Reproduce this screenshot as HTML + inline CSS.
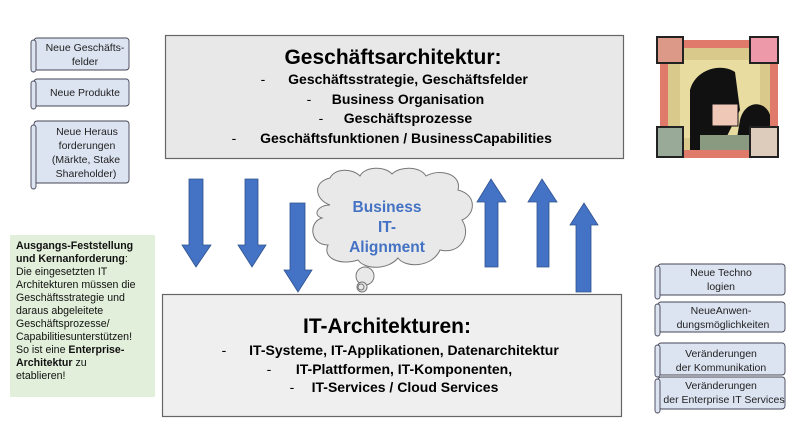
<!DOCTYPE html>
<html><head><meta charset="utf-8"><style>
html,body{margin:0;padding:0;background:#fff;width:796px;height:447px;overflow:hidden}
svg{display:block}
.b{font-family:"Liberation Sans",sans-serif;font-weight:bold}
.s{font-family:"Liberation Sans",sans-serif;font-size:10.5px;fill:#222}
</style></head><body>
<svg width="796" height="447" viewBox="0 0 796 447" xmlns="http://www.w3.org/2000/svg">
<!-- main boxes -->
<rect x="165.5" y="35.5" width="458" height="123" fill="#e9e8e8" stroke="#666" stroke-width="1.2"/>
<text x="393" y="64" text-anchor="middle" class="b" font-size="21">Geschäftsarchitektur:</text>
<g class="b" font-size="14" text-anchor="middle">
<text x="263" y="84" font-weight="normal">-</text><text x="408" y="84">Geschäftsstrategie, Geschäftsfelder</text>
<text x="309" y="104" font-weight="normal">-</text><text x="408" y="104">Business Organisation</text>
<text x="321" y="123" font-weight="normal">-</text><text x="408" y="123">Geschäftsprozesse</text>
<text x="234" y="143" font-weight="normal">-</text><text x="406" y="143">Geschäftsfunktionen / BusinessCapabilities</text>
</g>
<rect x="162.5" y="294.5" width="459" height="122" fill="#efefef" stroke="#666" stroke-width="1.2"/>
<text x="387" y="333" text-anchor="middle" class="b" font-size="21">IT-Architekturen:</text>
<g class="b" font-size="14" text-anchor="middle">
<text x="224" y="355" font-weight="normal">-</text><text x="404" y="355">IT-Systeme, IT-Applikationen, Datenarchitektur</text>
<text x="269" y="374" font-weight="normal">-</text><text x="404" y="374">IT-Plattformen, IT-Komponenten,</text>
<text x="292" y="392" font-weight="normal">-</text><text x="405" y="392">IT-Services / Cloud Services</text>
</g>
<!-- arrows -->
<g fill="#4472c4" stroke="#2f528f" stroke-width="0.8">
<polygon points="189,179 203,179 203,245 211,245 196,267 182,245 189,245"/>
<polygon points="245,179 258,179 258,245 266,245 252,267 238,245 245,245"/>
<polygon points="290,203 305,203 305,270 312,270 298,292 284,270 290,270"/>
<polygon points="485,267 498,267 498,202 506,202 491,179 477,202 485,202"/>
<polygon points="537,267 549,267 549,202 557,202 542,179 528,202 537,202"/>
<polygon points="576,292 591,292 591,225 598,225 584,203 570,225 576,225"/>
</g>
<!-- cloud -->
<g fill="#e9e9e9" stroke="#777" stroke-width="1">
<path d="M330,205 C315,200 312,182 330,178 C335,168 352,168 360,176 C365,166 385,166 392,174 C400,166 420,166 426,176 C440,168 462,174 458,190 C478,195 475,215 462,220 C472,235 460,255 440,250 C432,268 405,268 398,258 C388,270 365,270 358,260 C340,266 322,258 328,245 C310,245 308,222 322,218 C312,215 318,205 330,205 Z"/>
<circle cx="365" cy="276" r="9"/>
<circle cx="362" cy="287" r="5"/>
<circle cx="361" cy="287" r="3"/>
</g>
<g class="b" font-size="15.5" fill="#4472c4" text-anchor="middle">
<text x="387" y="212">Business</text><text x="387" y="232">IT-</text><text x="387" y="252">Alignment</text>
</g>
<!-- left scrolls -->
<g fill="#dce3f1" stroke="#445" stroke-width="0.9">
<rect x="34" y="38" width="95" height="32" rx="3"/><rect x="31" y="40" width="5" height="32" rx="2.5"/>
<rect x="34" y="79" width="95" height="27" rx="3"/><rect x="31" y="81" width="5" height="28" rx="2.5"/>
<rect x="34" y="121" width="95" height="62" rx="3"/><rect x="31" y="125" width="5" height="64" rx="2.5"/>
</g>
<g class="s" text-anchor="middle">
<text x="85" y="51">Neue Geschäfts-</text><text x="85" y="65">felder</text>
<text x="85" y="96">Neue Produkte</text>
<text x="87" y="135">Neue Heraus</text><text x="87" y="149">forderungen</text><text x="86" y="163">(Märkte, Stake</text><text x="86" y="177">Shareholder)</text>
</g>
<!-- green box -->
<rect x="10" y="235" width="145" height="162" fill="#e2efda"/>
<g font-family="Liberation Sans,sans-serif" font-size="10.6" fill="#111">
<text x="16" y="249" font-weight="bold">Ausgangs-Feststellung</text>
<text x="16" y="262"><tspan font-weight="bold">und Kernanforderung</tspan>:</text>
<text x="16" y="275">Die eingesetzten IT</text>
<text x="16" y="288">Architekturen müssen die</text>
<text x="16" y="301">Geschäftsstrategie und</text>
<text x="16" y="314">daraus abgeleitete</text>
<text x="16" y="327">Geschäftsprozesse/</text>
<text x="16" y="340">Capabilitiesunterstützen!</text>
<text x="16" y="353">So ist eine <tspan font-weight="bold">Enterprise-</tspan></text>
<text x="16" y="366"><tspan font-weight="bold">Architektur</tspan> zu</text>
<text x="16" y="379">etablieren!</text>
</g>
<!-- right scrolls -->
<g fill="#dce3f1" stroke="#445" stroke-width="0.9">
<rect x="658" y="264" width="127" height="31" rx="3"/><rect x="655" y="266" width="5" height="33" rx="2.5"/>
<rect x="658" y="302" width="127" height="30" rx="3"/><rect x="655" y="304" width="5" height="32" rx="2.5"/>
<rect x="658" y="343" width="127" height="32" rx="3"/><rect x="655" y="345" width="5" height="32" rx="2.5"/>
<rect x="658" y="377" width="127" height="32" rx="3"/><rect x="655" y="379" width="5" height="34" rx="2.5"/>
</g>
<g class="s" text-anchor="middle">
<text x="721" y="276">Neue Techno</text><text x="721" y="290">logien</text>
<text x="721" y="314">NeueAnwen-</text><text x="723" y="328">dungsmöglichkeiten</text>
<text x="721" y="357">Veränderungen</text><text x="721" y="371">der Kommunikation</text>
<text x="721" y="389">Veränderungen</text><text x="724" y="403">der Enterprise IT Services</text>
</g>
<!-- picture -->
<g>
<rect x="660" y="40" width="118" height="118" fill="#e07a6a"/>
<rect x="668" y="48" width="102" height="102" fill="#d9c98a"/>
<rect x="680" y="60" width="80" height="78" fill="#e8dca0"/>
<path d="M690,150 L690,90 C695,70 720,62 735,72 L740,110 L720,150 Z" fill="#111"/>
<path d="M735,150 L740,120 C745,100 765,100 770,115 L770,150 Z" fill="#111"/>
<rect x="712" y="104" width="26" height="22" fill="#f0c8b8" stroke="#111"/>
<rect x="700" y="135" width="50" height="15" fill="#8a9a80"/>
<rect x="657" y="37" width="26" height="26" fill="#d98" stroke="#222" stroke-width="2"/>
<rect x="750" y="37" width="28" height="26" fill="#e9a" stroke="#222" stroke-width="2"/>
<rect x="657" y="127" width="26" height="30" fill="#9a9" stroke="#222" stroke-width="2"/>
<rect x="750" y="127" width="28" height="30" fill="#dcb" stroke="#222" stroke-width="2"/>
</g>
</svg>
</body></html>
